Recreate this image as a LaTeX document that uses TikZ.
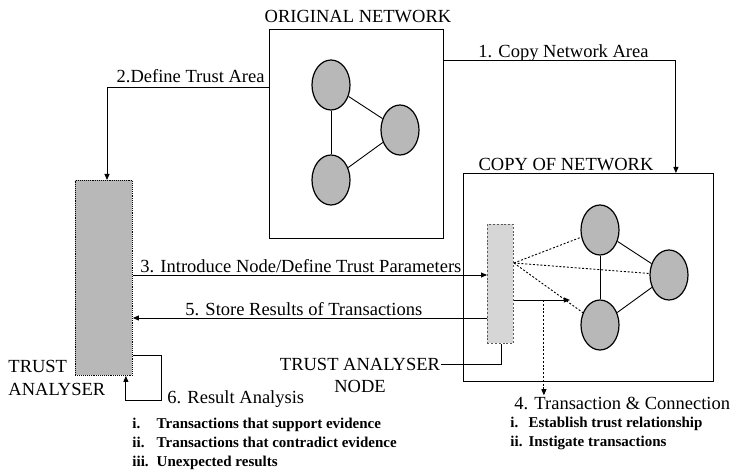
\documentclass[tikz,border=0pt]{standalone}
\usepackage{fontspec}
\setmainfont{Liberation Serif}
\usetikzlibrary{calc,shapes.geometric,arrows.meta}

\definecolor{netgray}{gray}{0.72}
\definecolor{nodegray}{gray}{0.84}

\newcommand{\drawnet}[2] {
  \node[netnode] (#1a) at #2 {};
  \node[netnode] (#1b) at ($#2+(69,45)$) {};
  \node[netnode] (#1c) at ($#2+(0,95)$) {};
  \foreach \u/\v in {a/b,a/c,c/b} {
    \draw (#1\u) -- (#1\v);
  }
}

\begin{document}
\begin{tikzpicture}[x=1bp, y=-1bp, line width=0.9bp,
    lbl/.style={inner sep=1bp, font=\fontsize{18.5bp}{22bp}\selectfont},
    small/.style={inner sep=0pt, font=\fontsize{15bp}{19.2bp}\selectfont\bfseries},
    netbox/.style={draw, inner sep=0pt, anchor=north west},
    netnode/.style={ellipse, draw, line width=1.2bp, fill=netgray, minimum width=38bp, minimum height=50bp, inner sep=0pt},
    arr/.style={-{Triangle[length=6bp,width=5bp]}},
    dots/.style={dash pattern=on 2bp off 1.8bp}]
  \useasboundingbox (0,0) rectangle (733,471);

  % original and copied network
  \node[netbox, minimum width=174bp, minimum height=209bp] (orig) at (269,29) {};
  \node[lbl, anchor=base] (origtitle) at (358,22.5) {ORIGINAL NETWORK};
  \drawnet{o}{(331,85)}
  \node[netbox, minimum width=250bp, minimum height=208bp] (copy) at (463,173) {};
  \node[lbl, anchor=base] (copytitle) at (566,171) {COPY OF NETWORK};
  \drawnet{c}{(600,230)}

  % trust analyser and its node
  \node[netbox, minimum width=57bp, minimum height=195bp, fill=netgray, densely dotted] (ta) at (75,180) {};
  \node[lbl, anchor=base west] (talbl1) at (7,372) {TRUST};
  \node[lbl, anchor=base west] (talbl2) at (7,395) {ANALYSER};
  \node[netbox, minimum width=26bp, minimum height=119bp, fill=nodegray, draw=gray!70!black, dots] (tan) at (487,224) {};
  \node[lbl, anchor=base] (tanlbl1) at (360,370) {TRUST ANALYSER};
  \node[lbl, anchor=base] (tanlbl2) at (360,392) {NODE};
  \draw (tanlbl1.east) -| ([xshift=14bp]tan.south west);

  % steps 1 and 2
  \draw[arr] ([yshift=-31bp]orig.north east) -| ([xshift=-38bp]copy.north east);
  \node[lbl, anchor=base west] (l1) at (477,58) {1. Copy Network Area};
  \draw[arr] ([yshift=-58bp]orig.north west) -| ([xshift=32bp]ta.north west);
  \node[lbl, anchor=base east] (l2) at (266,83) {2.Define Trust Area};

  % steps 3 and 5
  \coordinate (s3) at ([yshift=-95bp]ta.north east);
  \draw[arr] (s3) -- (s3 -| tan.west);
  \node[lbl, anchor=base west] (l3) at (139,273) {3. Introduce Node/Define Trust Parameters};
  \coordinate (s5) at ([yshift=-94bp]tan.north west);
  \draw[arr] (s5) -- (s5 -| ta.east);
  \node[lbl, anchor=base west] (l5) at (184,316) {5. Store Results of Transactions};

  % step 6
  \draw[arr] ([yshift=20bp]ta.south east) -- ++(29,0) -- ++(0,45) -| ([xshift=-7bp]ta.south east);
  \node[lbl, anchor=base west] (l6) at (166,403) {6. Result Analysis};
  \node[small, anchor=north west] (l6list) at (132,414.5) {%
    \begin{tabular}{@{}l@{\hspace{8bp}}l@{}}
      i. & Transactions that support evidence\\
      ii. & Transactions that contradict evidence\\
      iii. & Unexpected results
    \end{tabular}};

  % step 4
  \coordinate (tp) at ([yshift=-39bp]tan.north east);
  \foreach \n in {ca,cb,cc} {
    \draw[dots] (tp) -- (\n);
  }
  \coordinate (s4) at ([yshift=-76bp]tan.north east);
  \coordinate (hit) at ([xshift=56bp]s4);
  \draw[arr] (s4) -- (hit);
  \coordinate (tx) at ([xshift=30bp]s4);
  \node[lbl, anchor=base west] (l4) at (513,409) {4. Transaction \& Connection};
  \draw[dots, arr] (tx) -- (tx |- l4.north);
  \node[small, anchor=north west] (l4list) at (510,413.6) {%
    \begin{tabular}{@{}l@{\hspace{6bp}}l@{}}
      i. & Establish trust relationship\\
      ii. & Instigate transactions
    \end{tabular}};
\end{tikzpicture}
\end{document}
